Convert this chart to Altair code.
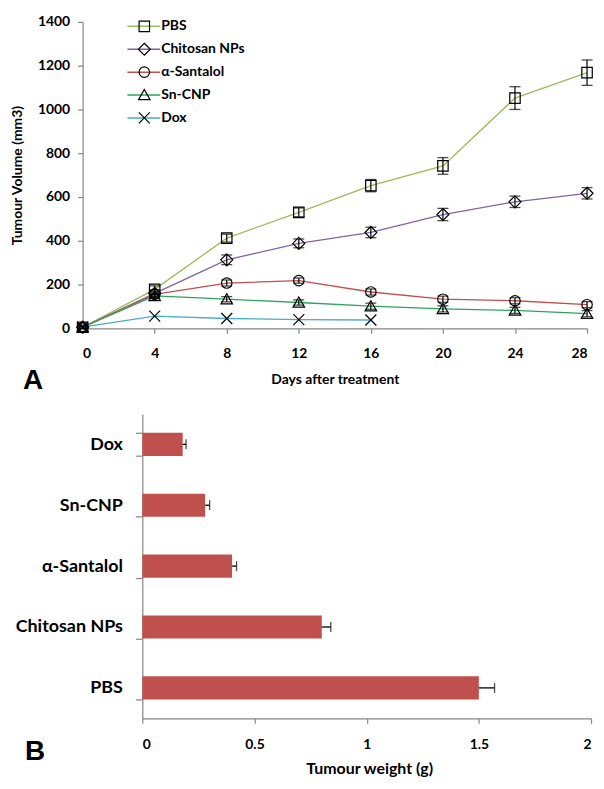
import altair as alt
import pandas as pd

# ---------------- data: panel A ----------------
days = [0, 4, 8, 12, 16, 20, 24, 28]
groups = ["PBS", "Chitosan NPs", "α-Santalol", "Sn-CNP", "Dox"]
pbs = [5, 178, 412, 530, 652, 742, 1052, 1168]
pbs_err = [6, 16, 18, 20, 28, 38, 52, 58]
chitosan = [5, 160, 313, 388, 438, 520, 578, 617]
chitosan_err = [4, 16, 22, 20, 24, 28, 26, 26]
santalol = [5, 155, 207, 218, 166, 133, 126, 108]
santalol_err = [4, 14, 14, 12, 14, 14, 14, 14]
sncnp = [5, 148, 133, 118, 101, 89, 82, 67]
sncnp_err = [4, 12, 12, 12, 14, 14, 14, 14]
dox_days = [0, 4, 8, 12, 16]
dox = [5, 56, 45, 40, 38]
dox_err = [0, 0, 0, 0, 0]

line_colors = ["#9BBB59", "#8064A2", "#C0504D", "#2EA35E", "#4BACC6"]
shape_paths = [
    "M-1,-1H1V1H-1Z",
    "M0,-1.15L1.15,0L0,1.15L-1.15,0Z",
    "M-1,0A1,1 0 1,0 1,0A1,1 0 1,0 -1,0Z",
    "M0,-1.05L1.1,0.9L-1.1,0.9Z",
    "M-1.05,-1.05L1.05,1.05M-1.05,1.05L1.05,-1.05",
]

# ---------------- data: panel B ----------------
bar_groups = ["Dox", "Sn-CNP", "α-Santalol", "Chitosan NPs", "PBS"]
weights = [0.18, 0.28, 0.40, 0.80, 1.50]
weight_err = [0.015, 0.02, 0.02, 0.04, 0.07]

series = [
    ("PBS", days, pbs, pbs_err),
    ("Chitosan NPs", days, chitosan, chitosan_err),
    ("α-Santalol", days, santalol, santalol_err),
    ("Sn-CNP", days, sncnp, sncnp_err),
    ("Dox", dox_days, dox, dox_err),
]
rows = []
for name, dd, vv, ee in series:
    for d, v, e in zip(dd, vv, ee):
        rows.append({"group": name, "grp2": name, "day": d, "volume": v, "err": e})
vol_df = pd.DataFrame(rows)

w_df = pd.DataFrame({"group": bar_groups, "weight": weights, "err": weight_err})

FONT = "Lato"
AXCOL = "#868686"

def xenc(field):
    return alt.X(
        f"{field}:Q",
        scale=alt.Scale(domain=[0, 28], nice=False),
        axis=alt.Axis(values=days, title="Days after treatment", labelPadding=13,
                      titlePadding=12, titleFontSize=14),
    )

def yenc(field):
    return alt.Y(
        f"{field}:Q",
        scale=alt.Scale(domain=[0, 1400], nice=False),
        axis=alt.Axis(values=list(range(0, 1401, 200)), format="d",
                      title="Tumour Volume (mm3)",
                      labelPadding=8, titlePadding=13, titleFontSize=14),
    )

base = alt.Chart(vol_df)

legend_common = dict(
    title=None, orient="none", legendY=-3, clipHeight=15, rowPadding=8,
    labelFont=FONT, labelFontSize=14, labelFontWeight="bold",
    labelColor="black", labelOffset=0, padding=0,
)

lines = base.mark_line(strokeWidth=1.3).encode(
    x=xenc("day"), y=yenc("volume"),
    color=alt.Color("group:N", scale=alt.Scale(domain=groups, range=line_colors),
                    legend=alt.Legend(symbolType="stroke", symbolStrokeWidth=1.5,
                                      symbolSize=1089, legendX=44, **legend_common)),
)

points = base.mark_point(filled=False, size=110, strokeWidth=1.2, color="black",
                         opacity=1).encode(
    x=xenc("day"), y=yenc("volume"),
    shape=alt.Shape("grp2:N", sort=groups, scale=alt.Scale(range=shape_paths),
                    legend=alt.Legend(symbolStrokeColor="black", symbolFillColor="white",
                                      symbolStrokeWidth=1.2, symbolSize=110,
                                      labelExpr="''", legendX=55, **legend_common)),
)

err_base = base.transform_filter("datum.err > 0").transform_calculate(
    lo="datum.volume - datum.err", hi="datum.volume + datum.err"
)
err_rule = err_base.mark_rule(color="black", strokeWidth=1.2).encode(
    x=xenc("day"), y=yenc("lo"), y2="hi:Q"
)
cap_lo = err_base.mark_tick(color="black", orient="horizontal", size=11,
                            thickness=1.3).encode(x=xenc("day"), y=yenc("lo"))
cap_hi = err_base.mark_tick(color="black", orient="horizontal", size=11,
                            thickness=1.3).encode(x=xenc("day"), y=yenc("hi"))

top = alt.layer(lines, err_rule, cap_lo, cap_hi, points).properties(
    width=507, height=308,
    title=alt.TitleParams("A", orient="bottom", anchor="start", frame="group",
                          font="Liberation Sans", fontSize=28, fontWeight="bold",
                          color="black", offset=-19, dx=-60),
)

# ---------------- panel B ----------------
# plot area shares the left origin with panel A; the bar axis sits 60px in
bx = lambda field: alt.X(
    f"{field}:Q", scale=alt.Scale(domain=[0, 2], nice=False, range=[60, 511]),
    axis=alt.Axis(values=[0, 0.5, 1, 1.5, 2], format="~g", title="Tumour weight (g)",
                  labelPadding=14, titlePadding=9, titleFontSize=16, titleX=288),
)
by = alt.Y(
    "group:N", sort=bar_groups,
    scale=alt.Scale(paddingInner=0.62, paddingOuter=0.31),
    axis=alt.Axis(title=None, tickBand="extent", tickSize=7, labelFontSize=18,
                  labelPadding=13, offset=-60),
)
wb = alt.Chart(w_df)
bars = wb.mark_bar(color="#C0504D").encode(x=bx("weight"), y=by)
wb_err = wb.transform_calculate(hi="datum.weight + datum.err")
w_rule = wb_err.mark_rule(color="black", strokeWidth=1.3).encode(
    x=bx("weight"), x2="hi:Q", y=by)
w_cap = wb_err.mark_tick(color="black", orient="vertical", size=10,
                         thickness=1.3).encode(x=bx("hi"), y=by)

bottom = alt.layer(bars, w_rule, w_cap).properties(
    width=511, height=306,
    title=alt.TitleParams("B", orient="bottom", anchor="start", frame="group",
                          font="Liberation Sans", fontSize=28, fontWeight="bold",
                          color="black", offset=-38, dx=-58),
)

chart = alt.vconcat(top, bottom, spacing=10).properties(
    padding={"left": 2, "top": 5, "right": 0, "bottom": 0}
).configure_view(stroke=None).configure_axis(
    grid=False, domainColor=AXCOL, tickColor=AXCOL, domainWidth=1.2, tickWidth=1.2,
    tickSize=5, labelFont=FONT, labelFontWeight="bold", labelFontSize=14,
    labelColor="black", titleFont=FONT, titleFontWeight="bold", titleColor="black",
)

chart.save("out.html", embed_options={"renderer": "svg", "actions": False})
